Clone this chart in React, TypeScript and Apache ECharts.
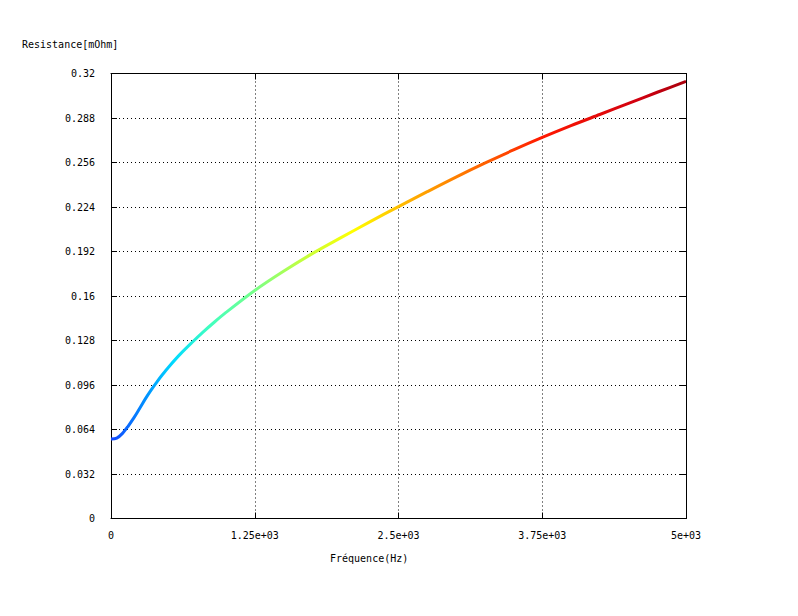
import React, { useEffect, useRef } from "react";
import * as echarts from "echarts";

const freq = [0, 50, 100, 150, 200, 250, 300, 350, 400, 450, 500, 600, 700, 800, 900, 1000, 1250, 1500, 1750, 2000, 2250, 2500, 2750, 3000, 3250, 3500, 3750, 4000, 4250, 4500, 4750, 5000];
const resistance = [0.0572, 0.0578, 0.0612, 0.0665, 0.0725, 0.0793, 0.0862, 0.0925, 0.0983, 0.1037, 0.1088, 0.118, 0.1262, 0.134, 0.1413, 0.1482, 0.164, 0.1778, 0.1905, 0.202, 0.2133, 0.2243, 0.235, 0.2455, 0.2555, 0.265, 0.274, 0.2825, 0.2905, 0.2985, 0.3065, 0.3143];
const xTickValues = [0, 1250, 2500, 3750, 5000];
const xTickLabels = ["0", "1.25e+03", "2.5e+03", "3.75e+03", "5e+03"];
const colorStops = [
  [0, "#1448ff"], [0.06, "#0090ff"], [0.11, "#00dcff"], [0.17, "#40ffc0"],
  [0.24, "#70ff90"], [0.33, "#c0ff40"], [0.42, "#ffff00"], [0.52, "#ffb000"],
  [0.65, "#ff6000"], [0.75, "#ff1800"], [0.92, "#d00010"], [1, "#a8000c"],
];

const FONT = "DejaVu Sans Mono";

export default function App() {
  const ref = useRef<HTMLDivElement>(null);
  useEffect(() => {
    const chart = echarts.init(ref.current!, null, { renderer: "svg" });
    const dotted = { color: "#000", width: 1, type: [1, 3] as any };
    const axisCommon = {
      axisLine: { show: true, onZero: false, lineStyle: { color: "#000", width: 1 } },
      axisTick: { show: true, inside: true, length: 6, lineStyle: { color: "#000" } },
    };
    chart.setOption({
      animation: false,
      backgroundColor: "#fff",
      textStyle: { fontFamily: FONT },
      grid: { left: 111, right: 112, top: 73.5, bottom: 97.5, show: false },
      xAxis: [
        {
          type: "value", min: 0, max: 5000, interval: 1250, position: "bottom",
          ...axisCommon,
          axisLabel: {
            color: "#000", fontFamily: FONT, fontSize: 10, margin: 12,
            formatter: (v: number) => { const i = xTickValues.indexOf(v); return i >= 0 ? xTickLabels[i] : ""; },
          },
          splitLine: { show: true, lineStyle: dotted },
        },
        {
          type: "value", min: 0, max: 5000, interval: 1250, position: "top",
          ...axisCommon, axisLabel: { show: false }, splitLine: { show: false }, z: 5,
        },
      ],
      yAxis: [
        {
          type: "value", min: 0, max: 0.32, interval: 0.032, position: "left",
          ...axisCommon,
          axisLabel: {
            color: "#000", fontFamily: FONT, fontSize: 10, margin: 16,
            formatter: (v: number) => String(parseFloat(v.toFixed(3))),
          },
          splitLine: { show: true, lineStyle: dotted },
        },
        {
          type: "value", min: 0, max: 0.32, interval: 0.032, position: "right",
          ...axisCommon, axisLabel: { show: false }, splitLine: { show: false }, z: 5,
        },
      ],
      graphic: [
        { type: "text", left: 22, top: 39, style: { text: "Resistance[mOhm]", fill: "#000", font: `10px "${FONT}"` } },
        { type: "text", left: 330, top: 553, style: { text: "Fréquence(Hz)", fill: "#000", font: `10px "${FONT}"` } },
      ],
      series: [
        {
          type: "line",
          xAxisIndex: 0, yAxisIndex: 0,
          data: freq.map((f, i) => [f, resistance[i]]),
          showSymbol: false,
          smooth: 0.3,
          lineStyle: {
            width: 3,
            color: new echarts.graphic.LinearGradient(0, 0, 1, 0, colorStops.map(([o, c]) => ({ offset: o as number, color: c as string }))),
          },
        },
      ],
    });
    return () => chart.dispose();
  }, []);
  return <div ref={ref} style={{ width: 798, height: 616, position: "absolute", left: 0, top: 0 }} />;
}
